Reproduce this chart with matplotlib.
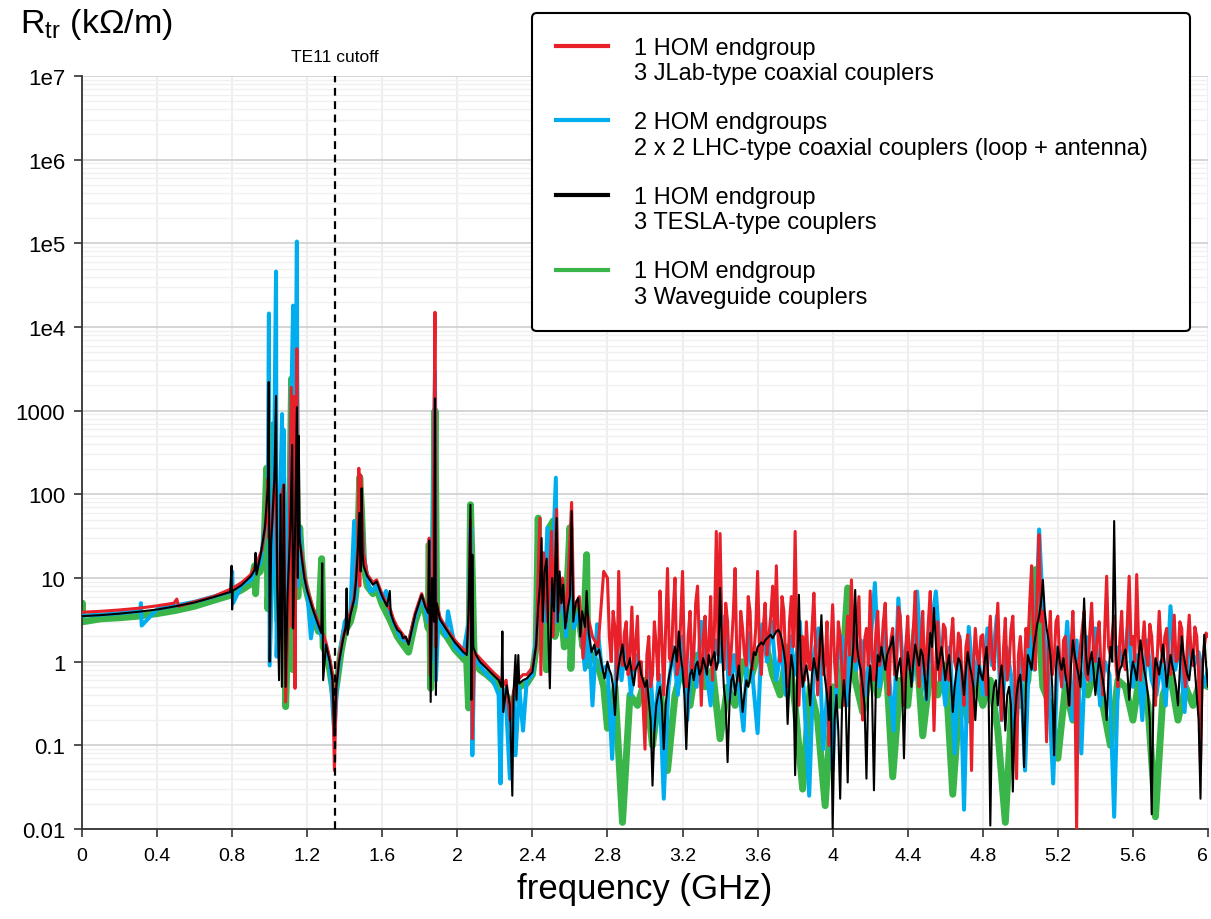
import matplotlib
matplotlib.use("Agg")
import matplotlib.pyplot as plt
from matplotlib.lines import Line2D
from matplotlib.legend_handler import HandlerLine2D

plt.rcParams['font.family'] = ['Liberation Sans', 'DejaVu Sans']
plt.rcParams['mathtext.fontset'] = 'custom'
plt.rcParams['mathtext.rm'] = 'Liberation Sans'

# ---------------- data (kOhm/m vs GHz) ----------------
# low frequency part, 0 - 2.8 GHz, one list per curve
freq_red_lo = [0.0, 0.1, 0.2, 0.3, 0.4, 0.49, 0.505, 0.515, 0.6, 0.7, 0.8, 0.85,
               0.9, 0.93, 0.96, 0.98, 0.99, 0.995, 1.01, 1.03, 1.04, 1.055, 1.065, 1.075,
               1.085, 1.1, 1.115, 1.12, 1.13, 1.135, 1.145, 1.15, 1.16, 1.17, 1.185, 1.2,
               1.23, 1.26, 1.28, 1.3, 1.32, 1.335, 1.345, 1.355, 1.37, 1.39, 1.41, 1.43, 1.45,
               1.46, 1.47, 1.475, 1.48, 1.485, 1.49, 1.5, 1.52, 1.534, 1.55, 1.57, 1.6,
               1.625, 1.645, 1.66, 1.68, 1.71, 1.74, 1.775, 1.81, 1.83, 1.845, 1.85, 1.855,
               1.87, 1.881, 1.886, 1.89, 1.907, 1.943, 1.987, 2.032, 2.05, 2.06, 2.07, 2.08,
               2.09, 2.12, 2.156, 2.19, 2.22, 2.24, 2.26, 2.28, 2.3, 2.32, 2.35, 2.37, 2.4,
               2.42, 2.44, 2.445, 2.46, 2.48, 2.502, 2.51, 2.529, 2.54, 2.56, 2.58, 2.609,
               2.62, 2.65, 2.67, 2.69, 2.72, 2.75, 2.78]
r_red_lo = [3.9, 4.0, 4.15, 4.35, 4.65, 5.0, 5.6, 4.6, 5.2, 6.0, 7.5, 8.8,
            11, 15, 22, 50, 150, 30, 40, 200, 15, 3, 100, 130,
            0.33, 5, 1900, 2.6, 1480, 0.48, 5500, 40, 25, 20, 11, 7.5,
            4.5, 2.9, 2.3, 1.7, 1.1, 0.7, 0.05, 0.5, 1.1, 1.9, 2.8, 3.8, 5.8,
            10, 25, 205, 8, 170, 100, 20, 11, 10, 8.8, 9.5, 6.3,
            4.8, 4.1, 3.2, 2.6, 2.1, 1.7, 3.8, 6.5, 4.7, 4.0, 30, 0.7,
            8, 15000, 1.5, 5, 3.4, 2.5, 1.8, 1.4, 1.3, 3, 50, 0.12,
            1.3, 1.1, 0.9, 0.75, 0.65, 0.5, 0.6, 0.2, 0.45, 0.6, 0.7, 0.7, 0.85,
            1.5, 52, 0.7, 20, 3, 36, 2, 66, 4, 10, 3, 80,
            4, 6, 1.1, 4, 2, 1.5, 12]

freq_blue_lo = [0.0, 0.1, 0.2, 0.31, 0.314, 0.318, 0.4, 0.5, 0.6, 0.7, 0.795, 0.8, 0.805, 0.85,
                0.9, 0.92, 0.95, 0.975, 0.99, 0.996, 1.0, 1.02, 1.034, 1.037, 1.05, 1.066,
                1.07, 1.075, 1.08, 1.09, 1.11, 1.125, 1.13, 1.145, 1.15, 1.16, 1.17, 1.185,
                1.2, 1.22, 1.24, 1.26, 1.3, 1.32, 1.345, 1.36, 1.38, 1.4, 1.43, 1.45, 1.455,
                1.47, 1.485, 1.5, 1.52, 1.534, 1.55, 1.57, 1.6, 1.62, 1.64, 1.66, 1.7, 1.74,
                1.775, 1.81, 1.83, 1.845, 1.855, 1.86, 1.881, 1.886, 1.9, 1.94, 1.95, 1.987,
                2.03, 2.06, 2.07, 2.08, 2.09, 2.12, 2.156, 2.19, 2.22, 2.23, 2.24, 2.26,
                2.28, 2.3, 2.31, 2.33, 2.35, 2.37, 2.4, 2.42, 2.44, 2.46, 2.48, 2.5, 2.525,
                2.53, 2.56, 2.58, 2.6, 2.62, 2.65, 2.68, 2.7, 2.72, 2.745, 2.77]
r_blue_lo = [3.55, 3.65, 3.8, 4.0, 5.0, 2.7, 4.25, 4.7, 5.2, 6.0, 6.9, 12, 5.0, 8.2,
             9.5, 12, 15, 40, 60, 14500, 0.9, 40, 46000, 1.15, 20, 910,
             3, 590, 2, 10, 300, 18000, 5, 105000, 8, 40, 18, 10,
             7, 1.9, 4, 2.5, 1.5, 1.0, 0.13, 0.6, 1.5, 3, 3.8, 48, 5,
             20, 100, 20, 10, 7, 7, 8.5, 5.5, 7, 4, 3, 1.9, 1.7,
             3.4, 6, 4.2, 3, 20, 1, 3000, 0.6, 3.5, 2.0, 4, 1.5,
             1.2, 3, 40, 0.076, 1.1, 0.9, 0.7, 0.6, 0.4, 0.035, 0.5, 0.3,
             0.04, 0.4, 0.076, 0.5, 0.15, 0.6, 0.7, 2, 20, 3, 40, 5, 158,
             3, 6, 2, 20, 2.5, 4, 0.8, 2.5, 0.3, 2.8, 0.8]

freq_black_lo = [0.0, 0.1, 0.2, 0.3, 0.4, 0.5, 0.6, 0.7, 0.79, 0.797, 0.8, 0.803, 0.85, 0.9,
                 0.92, 0.925, 0.93, 0.95, 0.975, 0.99, 0.995, 1.0, 1.008, 1.025, 1.034, 1.04,
                 1.05, 1.058, 1.065, 1.075, 1.085, 1.095, 1.11, 1.12, 1.125, 1.135, 1.145,
                 1.15, 1.155, 1.16, 1.17, 1.185, 1.2,
                 1.23, 1.26, 1.275, 1.28, 1.285, 1.3, 1.32, 1.335, 1.345, 1.355, 1.37, 1.39,
                 1.405, 1.41, 1.415, 1.43, 1.45,
                 1.46, 1.47, 1.478, 1.485, 1.49, 1.495, 1.5, 1.52, 1.534, 1.55, 1.57, 1.6,
                 1.625, 1.64, 1.645, 1.66, 1.68, 1.7, 1.71, 1.725, 1.74, 1.775, 1.81, 1.83,
                 1.845, 1.85, 1.858, 1.865, 1.875, 1.881, 1.886, 1.89,
                 1.907, 1.943, 1.987, 2.032, 2.05, 2.06, 2.07, 2.075, 2.08, 2.085, 2.1, 2.12,
                 2.156, 2.19, 2.22, 2.235, 2.24, 2.245, 2.263, 2.28, 2.293, 2.3, 2.31, 2.315,
                 2.325, 2.33, 2.35, 2.37, 2.4, 2.42, 2.431,
                 2.44, 2.449, 2.455, 2.465, 2.476, 2.485, 2.493, 2.505, 2.515, 2.529, 2.535,
                 2.545, 2.555, 2.564, 2.575, 2.59, 2.6, 2.609, 2.618, 2.63, 2.644, 2.655,
                 2.665, 2.68, 2.689, 2.7, 2.715, 2.73, 2.74, 2.755, 2.77, 2.785]
r_black_lo = [3.5, 3.6, 3.75, 3.95, 4.2, 4.6, 5.1, 5.9, 6.8, 14, 4.2, 7.0, 8.2, 10.5,
              12.5, 20, 11, 18, 40, 120, 2200, 1.0, 25, 150, 1500, 8,
              0.6, 100, 0.5, 130, 0.5, 6, 40, 390, 2.5, 30, 1100,
              10, 500, 30, 18, 10, 7,
              4.2, 2.7, 2.2, 15, 0.6, 1.6, 1.0, 0.6, 0.13, 0.5, 1.0, 1.8,
              2.6, 7.5, 2.1, 3.6, 5.5,
              9, 22, 60, 12, 118, 20, 14, 10.5, 9.5, 8.3, 9.1, 6,
              4.6, 7, 3.8, 3.0, 2.4, 2.2, 1.9, 2.0, 1.6, 3.6, 6.3, 4.5,
              3.8, 28, 0.33, 10, 3, 1400, 0.4, 5,
              3.2, 2.4, 1.7, 1.3, 1.2, 4, 75, 0.35, 19, 1.5, 1.2, 1.0,
              0.83, 0.7, 0.6, 0.5, 2.3, 0.25, 0.52, 0.3, 0.025, 0.45, 1.2, 0.35,
              1.2, 0.55, 0.6, 0.63, 0.75, 1.6, 4.5,
              8, 30, 3, 12, 17, 2, 0.48, 10, 4, 52, 3,
              12, 5, 8.3, 2.5, 4.5, 6, 63, 3, 5, 5.8, 2,
              4, 2.6, 7, 2.2, 1.3, 1.6, 1.2, 1.4, 0.9, 0.63]

freq_green_lo = [0.0, 0.002, 0.004, 0.1, 0.2, 0.3, 0.4, 0.5, 0.6, 0.7, 0.8, 0.85, 0.9,
                 0.92, 0.925, 0.93, 0.95, 0.97, 0.984, 0.99, 1.0, 1.02, 1.03, 1.045, 1.06,
                 1.069, 1.085, 1.1, 1.117, 1.125, 1.135, 1.15, 1.16, 1.17, 1.185, 1.2,
                 1.23, 1.26, 1.277, 1.285, 1.3, 1.32, 1.345, 1.36, 1.38, 1.4, 1.43, 1.45,
                 1.46, 1.47, 1.48, 1.49, 1.5, 1.52, 1.55, 1.57, 1.6, 1.64, 1.68, 1.71, 1.74,
                 1.775, 1.81, 1.83, 1.845, 1.85, 1.858, 1.87, 1.881, 1.89, 1.907, 1.943,
                 1.987, 2.03, 2.05, 2.06, 2.07, 2.08, 2.09, 2.12, 2.156, 2.19, 2.22, 2.26,
                 2.29, 2.33, 2.37, 2.4, 2.42, 2.431, 2.44, 2.46, 2.475, 2.49, 2.511, 2.52,
                 2.55, 2.57, 2.6, 2.605, 2.62, 2.65, 2.67, 2.689, 2.695, 2.72, 2.75, 2.78]
r_green_lo = [3.2, 5.0, 3.0, 3.25, 3.35, 3.5, 3.75, 4.1, 4.6, 5.4, 6.3, 7.2, 8.5,
              14, 6.5, 11, 12, 22, 205, 4.3, 12, 680, 30, 3, 40,
              155, 0.29, 4, 2400, 0.8, 11000, 6, 40, 17, 9, 6.5,
              3.5, 2.3, 17, 1.5, 1.3, 0.8, 0.35, 0.6, 1.3, 2.3, 3, 4.5,
              7, 30, 160, 60, 15, 8, 6.5, 7.5, 4.8, 3.2, 2.0, 1.6, 1.3,
              3, 5.2, 3.8, 2.5, 25, 0.48, 4, 1000, 4, 2.5, 2.0,
              1.4, 1.1, 1.0, 0.28, 75, 10, 1.0, 0.8, 0.7, 0.6, 0.5, 0.4,
              0.3, 0.5, 0.55, 0.7, 1.5, 52, 1.5, 10, 0.8, 40, 48, 2,
              5, 1.5, 40, 0.83, 5, 3, 1.5, 19, 0.9, 1.2, 0.9, 0.5]

# high frequency part, 2.8 - 6 GHz
freq_hf_red_black = [
    2.80, 2.81, 2.82, 2.83, 2.84, 2.85, 2.86, 2.87, 2.88, 2.89, 2.90, 2.91, 2.92, 2.93, 2.94, 2.95, 2.96, 2.97, 2.98, 2.99,
    3.00, 3.01, 3.02, 3.03, 3.04, 3.05, 3.06, 3.07, 3.08, 3.09, 3.10, 3.11, 3.12, 3.13, 3.14, 3.15, 3.16, 3.17, 3.18, 3.19,
    3.20, 3.21, 3.22, 3.23, 3.24, 3.25, 3.26, 3.27, 3.28, 3.29, 3.30, 3.31, 3.32, 3.33, 3.34, 3.35, 3.36, 3.37, 3.38, 3.39,
    3.40, 3.41, 3.42, 3.43, 3.44, 3.45, 3.46, 3.47, 3.48, 3.49, 3.50, 3.51, 3.52, 3.53, 3.54, 3.55, 3.56, 3.57, 3.58, 3.59,
    3.60, 3.61, 3.62, 3.63, 3.64, 3.65, 3.66, 3.67, 3.68, 3.69, 3.70, 3.71, 3.72, 3.73, 3.74, 3.75, 3.76, 3.77, 3.78, 3.79,
    3.80, 3.81, 3.82, 3.83, 3.84, 3.85, 3.86, 3.87, 3.88, 3.89, 3.90, 3.91, 3.92, 3.93, 3.94, 3.95, 3.96, 3.97, 3.98, 3.99,
    4.00, 4.01, 4.02, 4.03, 4.04, 4.05, 4.06, 4.07, 4.08, 4.09, 4.10, 4.11, 4.12, 4.13, 4.14, 4.15, 4.16, 4.17, 4.18, 4.19,
    4.20, 4.21, 4.22, 4.23, 4.24, 4.25, 4.26, 4.27, 4.28, 4.29, 4.30, 4.31, 4.32, 4.33, 4.34, 4.35, 4.36, 4.37, 4.38, 4.39,
    4.40, 4.41, 4.42, 4.43, 4.44, 4.45, 4.46, 4.47, 4.48, 4.49, 4.50, 4.51, 4.52, 4.53, 4.54, 4.55, 4.56, 4.57, 4.58, 4.59,
    4.60, 4.61, 4.62, 4.63, 4.64, 4.65, 4.66, 4.67, 4.68, 4.69, 4.70, 4.71, 4.72, 4.73, 4.74, 4.75, 4.76, 4.77, 4.78, 4.79,
    4.80, 4.81, 4.82, 4.83, 4.84, 4.85, 4.86, 4.87, 4.88, 4.89, 4.90, 4.91, 4.92, 4.93, 4.94, 4.95, 4.96, 4.97, 4.98, 4.99,
    5.00, 5.01, 5.02, 5.03, 5.04, 5.05, 5.06, 5.07, 5.08, 5.09, 5.10, 5.11, 5.12, 5.13, 5.14, 5.15, 5.16, 5.17, 5.18, 5.19,
    5.20, 5.21, 5.22, 5.23, 5.24, 5.25, 5.26, 5.27, 5.28, 5.29, 5.30, 5.31, 5.32, 5.33, 5.34, 5.35, 5.36, 5.37, 5.38, 5.39,
    5.40, 5.41, 5.42, 5.43, 5.44, 5.45, 5.46, 5.47, 5.48, 5.49, 5.50, 5.51, 5.52, 5.53, 5.54, 5.55, 5.56, 5.57, 5.58, 5.59,
    5.60, 5.61, 5.62, 5.63, 5.64, 5.65, 5.66, 5.67, 5.68, 5.69, 5.70, 5.71, 5.72, 5.73, 5.74, 5.75, 5.76, 5.77, 5.78, 5.79,
    5.80, 5.81, 5.82, 5.83, 5.84, 5.85, 5.86, 5.87, 5.88, 5.89, 5.90, 5.91, 5.92, 5.93, 5.94, 5.95, 5.96, 5.97, 5.98, 5.99,
    6.00]
r_red_hf = [
    10, 2.0, 1.0, 4.0, 2.5, 0.6, 12, 1.5, 0.9, 2.2, 3.0, 0.7, 1.2, 4.5, 0.8, 1.6, 3.5, 0.5, 1.0, 0.3,
    0.09, 1.2, 2.0, 0.5, 0.7, 3.0, 1.5, 0.6, 7, 1.8, 0.4, 2.5, 13, 1.1, 1.0, 4.0, 10, 0.7, 0.9, 3.0,
    12, 1.0, 0.5, 2.0, 4, 0.8, 1.2, 5.0, 8, 1.5, 0.3, 1.8, 3.5, 0.9, 1.5, 6.0, 0.6, 2.5, 36, 1.2,
    34, 2.0, 0.8, 5.0, 3.0, 0.7, 1.4, 3.5, 13, 1.0, 0.6, 4.0, 2.5, 1.2, 0.9, 6.0, 4, 0.8, 1.2, 2.5,
    12, 1.5, 0.7, 2.5, 5, 1.2, 2.0, 3.5, 8, 2.2, 14, 1.8, 1.0, 6.0, 4, 0.9, 0.5, 3.0, 6, 1.5,
    36, 1.5, 0.3, 1.2, 2.0, 0.6, 3.0, 1.0, 0.8, 2.5, 6.6, 1.2, 0.4, 1.8, 2.5, 0.7, 1.0, 3.0, 0.1, 1.5,
    4.8, 1.0, 0.5, 3.0, 2.0, 0.8, 0.3, 1.5, 3.5, 1.2, 9.5, 2.0, 1.0, 2.5, 6, 0.7, 0.2, 1.8, 2.5, 0.9,
    7, 1.2, 0.6, 2.2, 4, 0.9, 1.3, 3.0, 5, 1.0, 0.4, 1.8, 2.5, 0.7, 1.0, 4.5, 3.5, 0.8, 0.3, 1.5,
    3.5, 0.8, 1.1, 2.5, 6.9, 1.0, 0.5, 1.6, 4, 0.7, 1.2, 3.0, 6.9, 1.3, 0.15, 1.0, 3.0, 0.6, 1.0, 2.8,
    2.5, 0.9, 0.6, 1.8, 3.3, 1.0, 0.8, 2.2, 1.8, 0.6, 0.3, 1.5, 2.1, 0.7, 0.05, 0.9, 2.5, 1.2, 0.9, 2.0,
    2.1, 0.8, 0.4, 1.5, 3.5, 1.1, 0.8, 2.0, 5, 1.0, 0.2, 1.4, 3.3, 0.6, 0.9, 2.4, 3.5, 0.7, 0.04, 1.2,
    2.0, 0.9, 0.6, 2.5, 1.5, 5.0, 14, 2.0, 0.8, 8.0, 33, 3.0, 4, 0.6, 0.11, 1.5, 4, 0.7, 1.0, 3.0,
    3.5, 0.9, 0.5, 1.8, 2.0, 0.6, 0.3, 1.5, 4, 0.8, 0.01, 0.9, 1.5, 2.5, 4, 0.7, 0.6, 2.2, 5, 1.3,
    1.0, 2.0, 3.0, 0.8, 0.4, 2.5, 10.5, 1.5, 1.2, 2.2, 3.5, 0.9, 0.5, 1.8, 4, 1.0, 0.8, 3.0, 10.5, 1.6,
    2.0, 1.0, 11, 1.8, 0.6, 1.5, 3.0, 1.2, 0.9, 2.8, 2.0, 0.8, 0.3, 1.2, 4, 1.5, 1.0, 2.0, 2.5, 0.8,
    0.7, 1.5, 3.6, 1.0, 1.1, 3.0, 2.5, 0.8, 0.5, 1.6, 3.6, 1.2, 0.9, 2.6, 2.0, 0.7, 0.06, 1.0, 1.5, 2.2,
    2.0]
r_black_hf = [
    1.0, 0.8, 0.7, 0.5, 0.23, 0.6, 0.9, 1.2, 1.6, 1.0, 0.8, 0.9, 1.1, 0.7, 0.52, 0.8, 0.9, 1.0, 0.7, 0.6,
    0.5, 0.6, 0.35, 0.2, 0.033, 0.15, 0.3, 0.4, 0.5, 0.3, 0.09, 0.3, 0.5, 0.7, 0.9, 1.2, 1.5, 1.0, 2.3, 1.2,
    0.8, 0.4, 0.09, 0.4, 0.7, 0.8, 0.6, 0.9, 1.0, 0.7, 0.8, 1.1, 0.9, 0.7, 1.2, 0.9, 1.1, 1.3, 0.8, 1.0,
    7.6, 1.5, 0.5, 0.3, 0.063, 0.3, 0.6, 0.7, 0.4, 0.6, 0.9, 0.5, 0.25, 0.4, 0.6, 0.5, 0.63, 0.9, 1.3, 1.2,
    1.5, 1.6, 1.7, 1.6, 1.8, 1.9, 2.0, 2.1, 1.9, 2.1, 2.3, 2.4, 2.2, 1.8, 1.3, 0.9, 0.18, 0.6, 1.2, 0.8,
    0.044, 0.5, 6.3, 1.0, 0.5, 0.7, 0.9, 0.6, 0.3, 0.7, 1.1, 0.8, 0.6, 1.2, 3.6, 1.0, 0.6, 0.4, 0.2, 0.5,
    0.01, 0.2, 0.4, 0.15, 0.023, 0.3, 0.6, 0.3, 0.036, 0.4, 0.8, 1.5, 7.2, 1.5, 1.0, 0.8, 0.5, 0.3, 0.04, 0.5,
    0.9, 0.4, 0.029, 0.5, 1.2, 1.0, 1.5, 1.1, 0.8, 1.2, 1.4, 1.6, 2.0, 1.0, 0.6, 0.9, 1.1, 0.5, 0.07, 0.6,
    1.3, 0.9, 0.5, 1.0, 1.6, 1.2, 0.9, 1.4, 1.2, 0.7, 0.35, 1.0, 2.2, 1.5, 4.4, 1.6, 0.8, 1.1, 1.5, 1.0,
    0.6, 0.9, 1.2, 0.6, 0.25, 0.5, 0.8, 1.1, 1.0, 0.7, 0.4, 0.8, 1.3, 0.9, 0.7, 0.5, 0.2, 0.5, 0.9, 0.7,
    0.6, 1.0, 1.5, 0.6, 0.011, 0.3, 0.5, 0.6, 0.3, 0.6, 0.9, 0.5, 0.15, 0.4, 0.5, 0.3, 0.028, 0.2, 0.4, 0.6,
    0.7, 0.3, 0.055, 0.5, 1.2, 1.0, 0.8, 1.4, 2.0, 2.8, 3.5, 5.0, 9.5, 4.0, 2.5, 1.8, 1.2, 0.5, 0.076, 0.8,
    1.5, 1.0, 0.8, 1.1, 0.7, 0.5, 0.3, 0.9, 1.8, 1.2, 0.9, 0.7, 0.5, 1.5, 5.7, 1.2, 0.7, 1.0, 1.3, 0.8,
    0.4, 0.7, 1.1, 0.8, 0.6, 0.4, 0.2, 0.7, 1.5, 1.0, 48, 1.2, 0.6, 0.8, 0.9, 1.2, 1.4, 0.8, 0.35, 0.7,
    1.0, 0.8, 0.6, 1.1, 1.8, 1.2, 0.8, 0.6, 0.4, 0.2, 0.015, 0.5, 1.1, 0.9, 0.7, 1.0, 1.6, 0.9, 0.5, 0.8,
    1.2, 0.9, 0.7, 0.5, 0.3, 0.8, 2.0, 1.2, 0.9, 0.7, 0.6, 1.0, 1.4, 0.8, 0.4, 0.2, 0.023, 0.6, 2.1, 0.9,
    0.5]

freq_hf_blue = [
    2.800, 2.825, 2.850, 2.875, 2.900, 2.925, 2.950, 2.975,
    3.000, 3.025, 3.050, 3.075, 3.100, 3.125, 3.150, 3.175,
    3.200, 3.225, 3.250, 3.275, 3.300, 3.325, 3.350, 3.375,
    3.400, 3.425, 3.450, 3.475, 3.500, 3.525, 3.550, 3.575,
    3.600, 3.625, 3.650, 3.675, 3.700, 3.725, 3.750, 3.775,
    3.800, 3.825, 3.850, 3.875, 3.900, 3.925, 3.950, 3.975,
    4.000, 4.025, 4.050, 4.075, 4.100, 4.125, 4.150, 4.175,
    4.200, 4.225, 4.250, 4.275, 4.300, 4.325, 4.350, 4.375,
    4.400, 4.425, 4.450, 4.475, 4.500, 4.525, 4.550, 4.575,
    4.600, 4.625, 4.650, 4.675, 4.700, 4.725, 4.750, 4.775,
    4.800, 4.825, 4.850, 4.875, 4.900, 4.925, 4.950, 4.975,
    5.000, 5.025, 5.050, 5.075, 5.100, 5.125, 5.150, 5.175,
    5.200, 5.225, 5.250, 5.275, 5.300, 5.325, 5.350, 5.375,
    5.400, 5.425, 5.450, 5.475, 5.500, 5.525, 5.550, 5.575,
    5.600, 5.625, 5.650, 5.675, 5.700, 5.725, 5.750, 5.775,
    5.800, 5.825, 5.850, 5.875, 5.900, 5.925, 5.950, 5.975,
    6.000]
r_blue_hf = [
    0.9, 0.069, 1.5, 0.6, 2.0, 0.4, 1.2, 0.7,
    0.3, 1.0, 0.15, 0.7, 0.023, 0.5, 1.5, 0.4,
    2.0, 0.2, 1.3, 0.5, 3.0, 0.8, 0.3, 1.8,
    1.0, 3.5, 0.35, 1.2, 0.5, 0.15, 2.2, 0.6,
    0.14, 2.8, 1.0, 3.0, 0.6, 1.5, 0.4, 2.0,
    0.7, 3.0, 0.3, 0.025, 1.2, 2.5, 0.09, 0.6,
    0.05, 1.0, 2.0, 0.3, 4.5, 0.8, 1.8, 0.4,
    1.5, 8.7, 0.5, 2.5, 0.7, 0.15, 5.7, 0.8,
    2.0, 0.6, 6.9, 0.9, 0.35, 2.5, 6.9, 1.0,
    0.3, 1.5, 0.08, 2.0, 0.017, 2.6, 0.5, 1.2,
    0.4, 2.5, 0.9, 3.5, 0.2, 1.5, 0.7, 0.1,
    1.2, 0.05, 2.0, 0.8, 38, 2.5, 0.6, 0.035,
    1.5, 0.5, 3.0, 0.2, 1.8, 0.08, 2.0, 0.6,
    2.5, 0.3, 1.0, 0.7, 0.014, 1.5, 0.9, 2.8,
    0.5, 1.2, 0.2, 1.8, 0.6, 0.4, 1.0, 0.3,
    4.6, 0.8, 1.5, 0.25, 2.0, 0.9, 1.3, 0.5,
    0.8]

freq_hf_green = [
    2.80, 2.84, 2.88, 2.92, 2.96, 3.00, 3.04, 3.08, 3.12, 3.16,
    3.20, 3.24, 3.28, 3.32, 3.36, 3.40, 3.44, 3.48, 3.52, 3.56,
    3.60, 3.64, 3.68, 3.72, 3.76, 3.80, 3.84, 3.88, 3.92, 3.96,
    4.00, 4.04, 4.08, 4.12, 4.16, 4.20, 4.24, 4.28, 4.32, 4.36,
    4.40, 4.44, 4.48, 4.52, 4.56, 4.60, 4.64, 4.68, 4.72, 4.76,
    4.80, 4.84, 4.88, 4.92, 4.96, 5.00, 5.04, 5.08, 5.12, 5.16,
    5.20, 5.24, 5.28, 5.32, 5.36, 5.40, 5.44, 5.48, 5.52, 5.56,
    5.60, 5.64, 5.68, 5.72, 5.76, 5.80, 5.84, 5.88, 5.92, 5.96,
    6.00]
r_green_hf = [
    0.16, 0.5, 0.012, 0.4, 0.3, 0.6, 0.1, 0.5, 0.05, 0.4,
    0.9, 0.3, 1.2, 0.5, 0.8, 0.12, 0.5, 0.3, 1.0, 0.6,
    1.2, 1.8, 0.7, 0.4, 1.5, 0.3, 0.03, 0.5, 0.2, 0.019,
    0.5, 0.3, 7.6, 0.6, 0.25, 0.8, 0.4, 1.5, 0.042, 0.6,
    0.3, 2.5, 0.13, 0.8, 0.4, 0.9, 0.026, 0.5, 0.2, 0.7,
    0.3, 0.6, 0.15, 0.012, 0.5, 0.3, 0.6, 12.6, 0.5, 0.3,
    0.07, 0.5, 0.2, 0.7, 0.4, 0.9, 0.3, 0.1, 0.6, 0.5,
    0.2, 0.8, 0.3, 0.014, 0.4, 0.7, 0.2, 0.5, 0.3, 0.6,
    0.5]

labels = ["1 HOM endgroup\n3 JLab-type coaxial couplers",
          "2 HOM endgroups\n2 x 2 LHC-type coaxial couplers (loop + antenna)",
          "1 HOM endgroup\n3 TESLA-type couplers",
          "1 HOM endgroup\n3 Waveguide couplers"]
colors = ["#e8202a", "#00aeef", "#000000", "#3ab54a"]

yticks = [0.01, 0.1, 1, 10, 100, 1000, 1e4, 1e5, 1e6, 1e7]
ytick_labels = ["0.01", "0.1", "1", "10", "100", "1000", "1e4", "1e5", "1e6", "1e7"]
xticks = [0, 0.4, 0.8, 1.2, 1.6, 2, 2.4, 2.8, 3.2, 3.6, 4, 4.4, 4.8, 5.2, 5.6, 6]
xtick_labels = ["0", "0.4", "0.8", "1.2", "1.6", "2", "2.4", "2.8", "3.2", "3.6",
                "4", "4.4", "4.8", "5.2", "5.6", "6"]
te11_cutoff = 1.35


class HandlerFirstLine(HandlerLine2D):
    # put the legend line next to the first line of a two-line label
    def create_artists(self, legend, orig_handle, xdescent, ydescent, width, height, fontsize, trans):
        arts = super().create_artists(legend, orig_handle, xdescent, ydescent, width, height, fontsize, trans)
        for a in arts:
            a.set_ydata([y + 0.62 * fontsize for y in a.get_ydata()])
        return arts


# ---------------- figure ----------------
fig = plt.figure(figsize=(12.11, 9.2), dpi=100)
ax = fig.add_axes([82/1211, 90/920, 1126/1211, 753/920])

ln = dict(solid_joinstyle='round', solid_capstyle='round')
ax.plot(freq_green_lo + freq_hf_green, r_green_lo + r_green_hf, color=colors[3], lw=5.0, zorder=2, **ln)
ax.plot(freq_blue_lo + freq_hf_blue, r_blue_lo + r_blue_hf, color=colors[1], lw=2.9, zorder=3, **ln)
ax.plot(freq_red_lo + freq_hf_red_black, r_red_lo + r_red_hf, color=colors[0], lw=2.2, zorder=4, **ln)
ax.plot(freq_black_lo + freq_hf_red_black, r_black_lo + r_black_hf, color=colors[2], lw=1.5, zorder=5, **ln)

ax.axvline(te11_cutoff, color='black', lw=1.6, ls=(0, (3.5, 2.5)), zorder=6)
fig.text(335/1211, 1 - 57/920, "TE11 cutoff", ha='center', va='center', fontsize=12.5)

ax.set_yscale('log')
ax.set_ylim(0.01, 1e7)
ax.set_xlim(0, 6)
ax.set_yticks(yticks)
ax.set_yticklabels(ytick_labels)
ax.set_xticks(xticks)
ax.set_xticklabels(xtick_labels)
ax.get_xticklabels()[-1].set_ha('right')

ax.grid(which='major', axis='y', color='#d2d2d2', lw=1.3, zorder=0)
ax.grid(which='minor', axis='y', color='#f0f0f0', lw=1.0, zorder=0)
ax.grid(which='major', axis='x', color='#eceef1', lw=1.5, zorder=0)
ax.set_axisbelow(True)

for s in ['top', 'right']:
    ax.spines[s].set_visible(False)
for s in ['left', 'bottom']:
    ax.spines[s].set_color('#333333')
    ax.spines[s].set_linewidth(1.3)
ax.tick_params(which='major', direction='out', length=6, width=1.2, color='#333333')
ax.tick_params(which='minor', length=0)
ax.tick_params(axis='y', labelsize=16, pad=6)
ax.tick_params(axis='x', labelsize=14, pad=7)
for t in ax.get_xticklabels():
    t.set_family(['Liberation Sans Narrow', 'Liberation Sans'])

ax.set_xlabel("frequency (GHz)", fontsize=25, labelpad=6)
fig.text(20/1211, 1 - 25/920, r"R$_{\mathrm{tr}}$ (kΩ/m)", ha='left', va='center', fontsize=24.5)

handles = [Line2D([], [], color=c, lw=3) for c in colors]
leg = fig.legend(handles, labels, loc='upper left',
                 bbox_to_anchor=(532/1211, 1 - 14/920, 658/1211, 0), mode='expand',
                 borderaxespad=0, fontsize=17, frameon=True, fancybox=True, framealpha=1,
                 edgecolor='black', handlelength=2.2, handletextpad=1.1,
                 borderpad=1.0, labelspacing=1.15,
                 handler_map={Line2D: HandlerFirstLine()})
leg.get_frame().set_linewidth(1.5)
leg.set_zorder(10)

fig.savefig("out.png", dpi=100)
